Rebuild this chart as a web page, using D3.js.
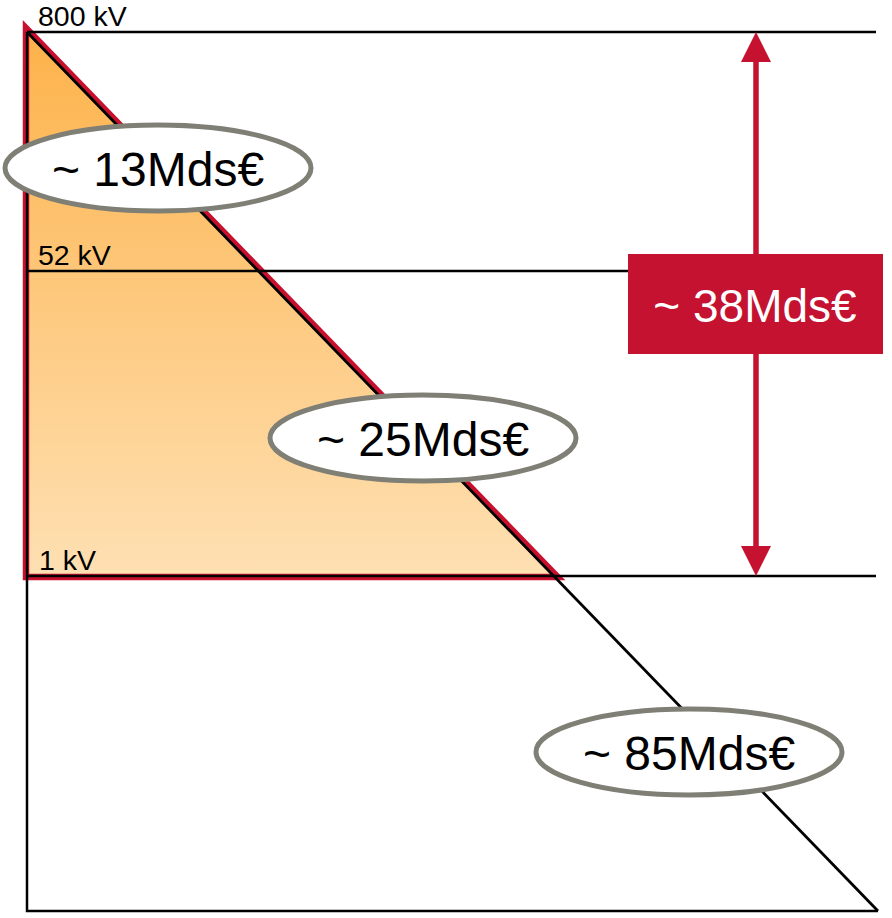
<!DOCTYPE html>
<html>
<head>
<meta charset="utf-8">
<script src="https://cdn.jsdelivr.net/npm/d3@7"></script>
<style>
  html, body { margin: 0; padding: 0; background: #fff; }
  svg { display: block; }
  text { font-family: "Liberation Sans", Arial, sans-serif; }
</style>
</head>
<body>
<script>
// Voltage levels marking the network tiers (high to low)
const voltages = [800, 52, 1];
const voltageLabels = ["800 kV", "52 kV", "1 kV"];

// Estimated cost of each tier, in billions of euros
const tierCosts = [13, 25, 85];
// Combined cost of the two upper tiers (800 kV down to 1 kV)
const upperTotal = 38;

const W = 892, H = 918;
const xLeft = 27, xRight = 878, yTopEdge = 32, yBottomEdge = 911;
const lineEnd = 876;

const svg = d3.select("body").append("svg")
  .attr("width", W).attr("height", H);

// Voltage axis: piecewise log scale placing each tier line
const y = d3.scaleLog().domain(voltages).range([yTopEdge, 271, 576]);
// Cost-pyramid diagonal: x as a function of y
const diagX = d3.scaleLinear().domain([yTopEdge, yBottomEdge]).range([xLeft, xRight]);

const fmt = v => "~ " + v + "Mds€";

// gradient for the upper (HTB + HTA) area
const defs = svg.append("defs");
const grad = defs.append("linearGradient")
  .attr("id", "upperFill")
  .attr("gradientUnits", "userSpaceOnUse")
  .attr("x1", 0).attr("y1", y(voltages[0]))
  .attr("x2", 0).attr("y2", y(voltages[2]));
grad.append("stop").attr("offset", 0).attr("stop-color", "#fdb24a");
grad.append("stop").attr("offset", 1).attr("stop-color", "#fee0b3");

const yLow = y(voltages[2]);
const xLow = diagX(yLow);

// filled triangle with red outline
svg.append("path")
  .attr("d", d3.line()([[xLeft - 1, yTopEdge - 4], [xLeft - 1, yLow + 1], [xLow + 4, yLow + 1]]) + "Z")
  .attr("fill", "url(#upperFill)")
  .attr("stroke", "#c8102e")
  .attr("stroke-width", 6.5)
  .attr("stroke-linejoin", "miter");

// tier lines
svg.selectAll("line.tier")
  .data(voltages)
  .join("line")
  .attr("class", "tier")
  .attr("x1", xLeft).attr("x2", lineEnd)
  .attr("y1", d => y(d)).attr("y2", d => y(d))
  .attr("stroke", "#000").attr("stroke-width", 2.3);

// outer frame: left edge, bottom edge and diagonal
svg.append("path")
  .attr("d", d3.line()([[xLeft, yTopEdge], [xLeft, yBottomEdge], [xRight, yBottomEdge]]))
  .attr("fill", "none").attr("stroke", "#000").attr("stroke-width", 2.5);
svg.append("line")
  .attr("x1", xLeft).attr("y1", yTopEdge)
  .attr("x2", diagX(yBottomEdge)).attr("y2", yBottomEdge)
  .attr("stroke", "#000").attr("stroke-width", 2.8);

// voltage labels
svg.selectAll("text.volt")
  .data(voltages)
  .join("text")
  .attr("class", "volt")
  .attr("x", (d, i) => i === 2 ? 39 : 38)
  .attr("y", d => y(d) - 6)
  .attr("font-size", 28.5)
  .attr("fill", "#000")
  .text((d, i) => voltageLabels[i]);

// cost bubbles
const bubbles = [
  { cx: 158, cy: 168 },
  { cx: 423, cy: 438 },
  { cx: 689, cy: 752 }
];
const g = svg.selectAll("g.bubble")
  .data(tierCosts)
  .join("g")
  .attr("class", "bubble")
  .attr("transform", (d, i) => `translate(${bubbles[i].cx},${bubbles[i].cy})`);
g.append("ellipse")
  .attr("rx", 153).attr("ry", 43)
  .attr("fill", "#fff")
  .attr("stroke", "#7f7f75").attr("stroke-width", 5);
g.append("text")
  .attr("text-anchor", "middle")
  .attr("y", 18)
  .attr("font-size", 48)
  .attr("fill", "#000")
  .text(d => fmt(d));

// double arrow spanning 800 kV to 1 kV
const ax = 756;
const red = "#c41230";
const yTop = y(voltages[0]), yBot = y(voltages[2]);
svg.append("line")
  .attr("x1", ax).attr("x2", ax)
  .attr("y1", yTop + 25).attr("y2", yBot - 25)
  .attr("stroke", red).attr("stroke-width", 5.5);
svg.append("path")
  .attr("d", d3.line()([[ax, yTop], [ax - 15, yTop + 30], [ax + 15, yTop + 30]]) + "Z")
  .attr("fill", red);
svg.append("path")
  .attr("d", d3.line()([[ax, yBot], [ax - 15, yBot - 30], [ax + 15, yBot - 30]]) + "Z")
  .attr("fill", red);

// total label box
svg.append("rect")
  .attr("x", 628).attr("y", 254)
  .attr("width", 255).attr("height", 100)
  .attr("fill", red);
svg.append("text")
  .attr("x", 755).attr("y", 322)
  .attr("text-anchor", "middle")
  .attr("font-size", 46)
  .attr("fill", "#fff")
  .text(fmt(upperTotal));
</script>
</body>
</html>
